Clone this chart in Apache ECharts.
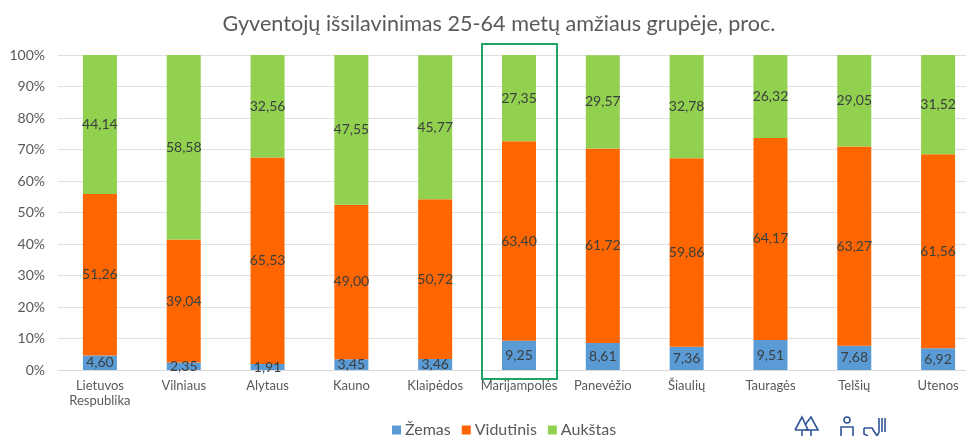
<!DOCTYPE html>
<html><head><meta charset="utf-8">
<style>html,body{margin:0;padding:0;background:#fff;overflow:hidden;width:966px;height:436px}#c{width:1000px;height:436px}</style>
<script src="https://cdn.jsdelivr.net/npm/echarts@6/dist/echarts.min.js"></script>
</head><body><div id="c"></div>
<script>
const titleText = 'Gyventojų išsilavinimas 25-64 metų amžiaus grupėje, proc.';
const categories = ['Lietuvos\nRespublika','Vilniaus','Alytaus','Kauno','Klaipėdos','Marijampolės','Panevėžio','Šiaulių','Tauragės','Telšių','Utenos'];
const zemas = [4.60,2.35,1.91,3.45,3.46,9.25,8.61,7.36,9.51,7.68,6.92];
const vidutinis = [51.26,39.04,65.53,49.00,50.72,63.40,61.72,59.86,64.17,63.27,61.56];
const aukstas = [44.14,58.58,32.56,47.55,45.77,27.35,29.57,32.78,26.32,29.05,31.52];
const font = 'Lato';
const chart = echarts.init(document.getElementById('c'));
const mk = (name, data, color) => ({
  name, type:'bar', stack:'a', data, barWidth:34,
  itemStyle:{color},
  label:{show:true, position:'inside', fontFamily:font, fontSize:14, color:'#3a3f3f',
    formatter:p=>p.value.toFixed(2).replace('.',',')}
});
const iconStyle = {stroke:'#2f5597', fill:'none', lineWidth:1.6};
chart.setOption({
  animation:false,
  backgroundColor:'#fff',
  title:{text:titleText, left:494, top:8, textAlign:'center',
    textStyle:{fontFamily:font, fontSize:21.6, fontWeight:'normal', color:'#595959'}},
  legend:{left:387, top:417, itemWidth:9, itemHeight:9, itemGap:11, icon:'rect',
    textStyle:{fontFamily:font, fontSize:16, color:'#595959', padding:[0,0,0,-1]}},
  grid:{left:58, top:55, width:922, height:315, containLabel:false},
  xAxis:{type:'category', data:categories,
    axisLine:{lineStyle:{color:'#d9d9d9', width:1}}, axisTick:{show:false},
    axisLabel:{fontFamily:font, fontSize:13, color:'#595959', interval:0, lineHeight:15, margin:8}},
  yAxis:{type:'value', min:0, max:100, interval:10,
    axisLine:{show:false}, axisTick:{show:false},
    splitLine:{lineStyle:{color:'#e0e0e0', width:1}},
    axisLabel:{fontFamily:font, fontSize:14, color:'#595959', formatter:'{value}%', margin:13}},
  series:[mk('Žemas',zemas,'#5b9bd5'), mk('Vidutinis',vidutinis,'#ff6600'), mk('Aukštas',aukstas,'#92d050')],
  graphic:[
    {type:'rect', shape:{x:482,y:44,width:75,height:335}, style:{fill:'none',stroke:'#21a366',lineWidth:2}, z:100},
    {type:'polyline', shape:{points:[[795,430],[802,417],[808,430],[795,430]]}, style:iconStyle},
    {type:'polyline', shape:{points:[[805,425],[811,417],[818,430],[805,430]]}, style:iconStyle},
    {type:'line', shape:{x1:802,y1:430,x2:802,y2:436}, style:iconStyle},
    {type:'line', shape:{x1:811,y1:430,x2:811,y2:436}, style:iconStyle},
    {type:'circle', shape:{cx:847,cy:420,r:3}, style:iconStyle},
    {type:'polyline', shape:{points:[[841,436],[841,427],[853,427],[853,436]]}, style:iconStyle},
    {type:'polyline', shape:{points:[[864,428],[872,428],[877,436]]}, style:iconStyle},
    {type:'polyline', shape:{points:[[864,428],[864,434],[868,436]]}, style:iconStyle},
    {type:'polyline', shape:{points:[[877,436],[879,432],[879,418]]}, style:iconStyle},
    {type:'line', shape:{x1:882,y1:418,x2:882,y2:432}, style:iconStyle},
    {type:'line', shape:{x1:885,y1:418,x2:885,y2:432}, style:iconStyle}
  ]
});
</script></body></html>
